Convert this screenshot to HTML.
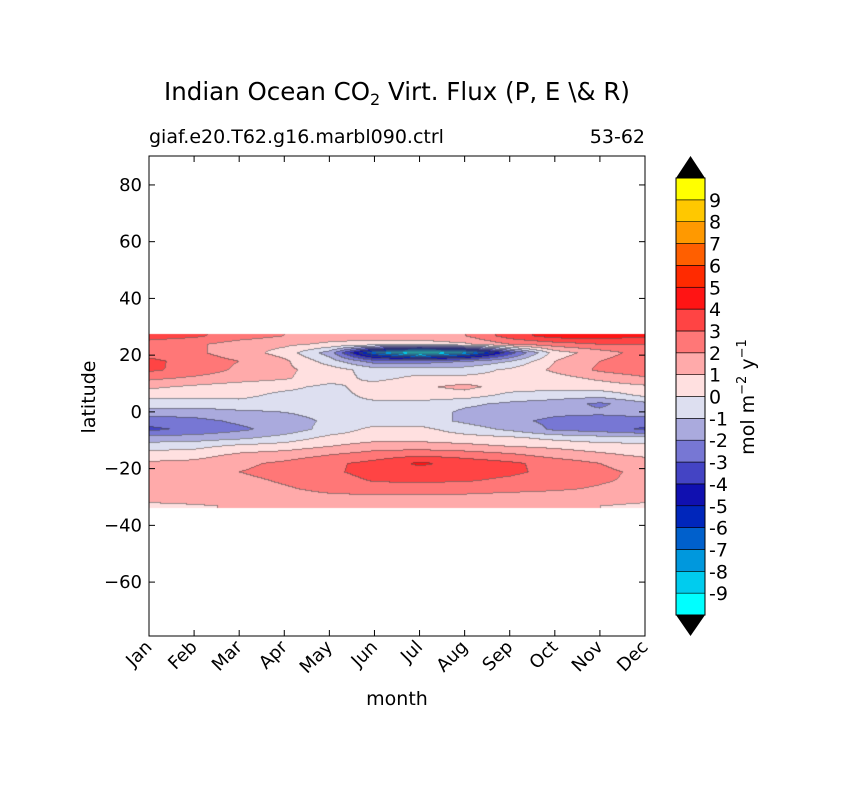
<!DOCTYPE html>
<html><head><meta charset="utf-8">
<style>
body{margin:0;background:#fff;}
#wrap{position:relative;width:841px;height:788px;font-family:"DejaVu Sans","Liberation Sans",sans-serif;color:#000;overflow:hidden}
svg text{font-family:"DejaVu Sans","Liberation Sans",sans-serif;}
</style></head>
<body>
<div id="wrap">
<canvas id="cv" width="841" height="788" style="position:absolute;left:0;top:0"></canvas>
<svg id="sv" width="841" height="788" style="position:absolute;left:0;top:0"></svg>
</div>
<script>
const months=["Jan","Feb","Mar","Apr","May","Jun","Jul","Aug","Sep","Oct","Nov","Dec"];
const lats=[27,24,21,18,15,12,9,6,3,0,-3,-6,-9,-12,-15,-18,-21,-24,-27,-30,-33];
const values=[
[3.5,3.2,2.5,2,1.5,1.5,1.5,2,3.5,4.5,4.5,4.2],
[2.5,2.2,1.5,1.2,0.8,0.5,0.5,0.8,2,2.5,3,3],
[2.5,2.2,1.5,0.6,-1.5,-7,-10,-8,-3.5,0.5,1.5,2.5],
[3.3,2.5,2,1.2,-0.5,-2.5,-2.5,-2,-1,1,2,2.8],
[3.2,2.6,1.8,1.2,0.5,-0.5,-0.5,-0.5,0.2,1.2,2.2,2.8],
[2.2,1.8,1.4,1.1,0.5,-0.3,0.3,0.3,0.3,0.6,1.2,1.8],
[1.2,0.8,0.5,0.3,-0.3,0.5,0.8,1.3,0.5,0.3,0.5,0.8],
[0.3,0.3,0.3,-0.3,-0.4,0.3,0.5,0.5,-0.3,-0.5,-0.6,0.2],
[-0.5,-0.5,-0.4,-0.6,-0.4,-0.2,-0.3,-0.8,-1.2,-1.5,-2.2,-1.3],
[-1.5,-1.5,-1.2,-1,-0.6,-0.5,-0.5,-1.2,-1.5,-1.8,-1.8,-1.5],
[-2.6,-2.3,-1.8,-1.5,-0.8,-0.5,-0.5,-1.2,-1.8,-2.2,-2.5,-2.5],
[-3.2,-2.8,-2.2,-1.6,-0.6,0.3,0.3,-0.5,-1.2,-2.2,-2.5,-3.2],
[-1.6,-1.5,-1.2,-0.6,0.3,0.6,0.6,0.4,0.2,-0.3,-0.6,-0.6],
[-0.4,-0.3,0.3,0.5,1,1.5,1.5,1.3,1.0,0.8,0.5,0.3],
[0.4,0.6,1.2,1.5,2,2.5,2.8,2.6,2.2,1.6,1.2,0.8],
[1.2,1.3,1.8,2.2,2.8,3.3,4.2,3.6,3.2,2.6,2,1.5],
[1.5,1.6,2,2.3,2.8,3.4,3.5,3.4,3.2,2.7,2.2,1.8],
[1.5,1.6,1.8,2.1,2.5,3.1,3.2,3.1,2.8,2.4,2.1,1.8],
[1.4,1.5,1.7,1.9,2.2,2.4,2.4,2.3,2.2,2.1,1.9,1.6],
[1.3,1.4,1.5,1.7,1.8,1.8,1.8,1.8,1.7,1.6,1.5,1.3],
[0.8,0.9,1.1,1.3,1.4,1.4,1.4,1.4,1.3,1.2,1,0.8]];
const yTicks=[80,60,40,20,0,-20,-40,-60];
const cbLevels=[9,8,7,6,5,4,3,2,1,0,-1,-2,-3,-4,-5,-6,-7,-8,-9];
const colors=["#00ffff","#00ccee","#0098dd","#0060cc","#0026bb","#1010b0","#4444c4","#7777d4","#aaaadd","#dddff0","#ffe0e0","#ffaaaa","#ff7777","#ff4444","#ff1414","#ff2a00","#ff5f00","#ff9900","#ffc800","#ffff00"];

const PL=149,PR=645,PT=156,PB=636;
const latTop=90.2,latBot=-79;
const yS=lat=>PT+(latTop-lat)/(latTop-latBot)*(PB-PT);
const xS=m=>PL+m/11*(PR-PL);
const NS="http://www.w3.org/2000/svg";
const sv=document.getElementById('sv');
function mk(tag,attrs,txt){const e=document.createElementNS(NS,tag);for(const k in attrs)e.setAttribute(k,attrs[k]);if(txt!==undefined)e.textContent=txt;sv.appendChild(e);return e;}
function hex(c){return [parseInt(c.substr(1,2),16),parseInt(c.substr(3,2),16),parseInt(c.substr(5,2),16)];}
const rgb=colors.map(hex);
function val(m,lat){
  let li=(lats[0]-lat)/3; li=Math.max(0,Math.min(lats.length-1.0001,li));
  let mi=Math.max(0,Math.min(10.9999,m));
  const i=Math.floor(li),j=Math.floor(mi),fy=li-i,fx=mi-j;
  const a=values[i][j],b=values[i][j+1],c=values[i+1][j],d=values[i+1][j+1];
  return (a*(1-fx)+b*fx)*(1-fy)+(c*(1-fx)+d*fx)*fy;
}
function lev(v){let k=Math.floor(v)+10;return Math.max(0,Math.min(19,k));}
const cv=document.getElementById('cv');const ctx=cv.getContext('2d');
ctx.fillStyle='#fff';ctx.fillRect(0,0,841,788);
const y0=Math.round(yS(27.4)),y1=Math.round(yS(-34));
const W=PR-PL,H=y1-y0;
const grid=[];
for(let y=0;y<H;y++){const row=[];const lat=latTop-((y0+y+0.5)-PT)/(PB-PT)*(latTop-latBot);
  for(let x=0;x<W;x++){const m=(x+0.5)/W*11;row.push(lev(val(m,lat)));}grid.push(row);}
const img=ctx.createImageData(W,H);
for(let y=0;y<H;y++)for(let x=0;x<W;x++){
  let c=rgb[grid[y][x]].slice();
  const edge=(x>0&&grid[y][x-1]!==grid[y][x])||(y>0&&grid[y-1][x]!==grid[y][x]);
  if(edge)c=c.map(v=>v*0.45+40);
  const p=(y*W+x)*4;img.data[p]=c[0];img.data[p+1]=c[1];img.data[p+2]=c[2];img.data[p+3]=255;}
ctx.putImageData(img,PL,y0);

let e=mk('rect',{x:PL,y:PT,width:PR-PL,height:PB-PT,fill:'none',stroke:'#000','stroke-width':1});

yTicks.forEach(t=>{const y=yS(t);
  mk('line',{x1:PL,x2:PL+6,y1:y,y2:y,stroke:'#000'});mk('line',{x1:PR,x2:PR-6,y1:y,y2:y,stroke:'#000'});
  const tx=mk('text',{x:PL-7,y:y+6,'text-anchor':'end','font-size':18},String(t).replace('-','\u2212'));
  });
months.forEach((mo,i)=>{const x=xS(i);
  mk('line',{x1:x,x2:x,y1:PB,y2:PB-6,stroke:'#000'});mk('line',{x1:x,x2:x,y1:PT,y2:PT+6,stroke:'#000'});
  const tx=mk('text',{x:x+4,y:PB+12,'text-anchor':'end','font-size':18,transform:`rotate(-45 ${x+4} ${PB+12})`},mo);
  });
e=mk('text',{x:397,y:100,'text-anchor':'middle','font-size':24.5},'');

e.innerHTML='Indian Ocean CO<tspan dy="5" font-size="16">2</tspan><tspan dy="-5"> Virt. Flux (P, E \\&amp; R)</tspan>';
e=mk('text',{x:149,y:143,'font-size':19},'giaf.e20.T62.g16.marbl090.ctrl');

e=mk('text',{x:645,y:143,'font-size':19,'text-anchor':'end'},'53-62');

e=mk('text',{x:397,y:705,'font-size':19,'text-anchor':'middle'},'month');

e=mk('text',{x:95,y:397,'font-size':19,'text-anchor':'middle',transform:'rotate(-90 95 397)'},'latitude');


const CL=676,CR=705,CT=178,CB=615,seg=(CB-CT)/20;
for(let k=0;k<20;k++){const r=mk('rect',{x:CL,y:CB-(k+1)*seg,width:CR-CL,height:seg,fill:colors[k],stroke:'#000','stroke-width':0.6});
  }
e=mk('polygon',{points:`${CL},${CT} ${CR},${CT} ${(CL+CR)/2},156`,fill:'#000'});

e=mk('polygon',{points:`${CL},${CB} ${CR},${CB} ${(CL+CR)/2},636`,fill:'#000'});

mk('rect',{x:CL,y:CT,width:CR-CL,height:CB-CT,fill:'none',stroke:'#000','stroke-width':1});
cbLevels.forEach(l=>{const y=CB-(l+10)*seg;
  const t=mk('text',{x:709,y:y+7,'font-size':19},String(l));
  });
e=mk('text',{x:754,y:397,'font-size':19,'text-anchor':'middle',transform:'rotate(-90 754 397)'},'');

e.innerHTML='mol m<tspan dy="-8" font-size="13">\u22122</tspan><tspan dy="8">  y</tspan><tspan dy="-8" font-size="13">\u22121</tspan>';
</script>
</body></html>
